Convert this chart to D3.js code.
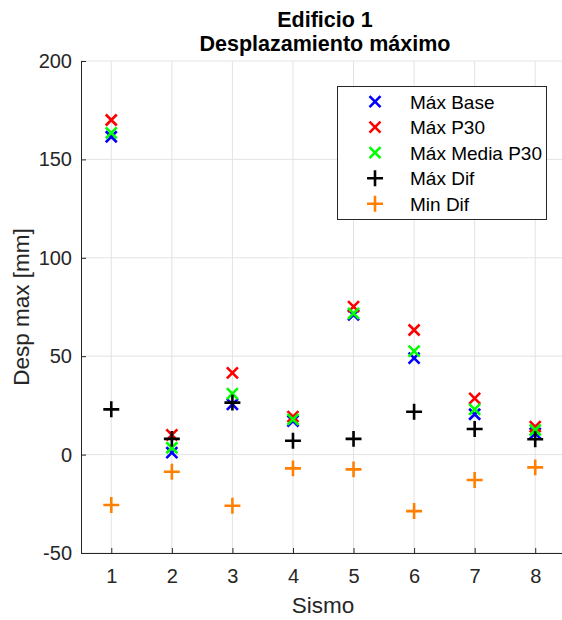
<!DOCTYPE html>
<html>
<head>
<meta charset="utf-8">
<script src="https://cdn.jsdelivr.net/npm/d3@7"></script>
<style>
body{margin:0;background:#fff;}
svg{display:block;font-family:"Liberation Sans",Arial,sans-serif;}
</style>
</head>
<body>
<svg id="chart" width="562" height="620"></svg>
<script>
// valores
var sismos=[1,2,3,4,5,6,7,8];
var maxBase=[161.5,1,25.5,17,71,49,20.5,10.8];
var maxP30=[170,10,41.5,19.3,75.2,63.3,28.6,14.2];
var maxMediaP30=[163.5,3.5,31,17.9,71.8,52.6,23,12.5];
var maxDif=[23,8,26.4,7,8,21.8,13,7.8];
var minDif=[-25.6,-8.7,-26,-7,-7.5,-28.7,-12.9,-6.5];
var yTicks=[-50,0,50,100,150,200];

var series=[
  {name:"Máx Base",vals:maxBase,color:"#0000ff",mark:"x"},
  {name:"Máx P30",vals:maxP30,color:"#ff0000",mark:"x"},
  {name:"Máx Media P30",vals:maxMediaP30,color:"#00ff00",mark:"x"},
  {name:"Máx Dif",vals:maxDif,color:"#000000",mark:"+"},
  {name:"Min Dif",vals:minDif,color:"#ff8000",mark:"+"}
];

var svg=d3.select("#chart");
var pLeft=81,pTop=61,pRight=565.5,pBottom=553;
var x=d3.scaleLinear().domain([0.5,8.5]).range([pLeft,pRight]);
var y=d3.scaleLinear().domain([-50,200]).range([pBottom,pTop]);

// grid
svg.append("g").selectAll("line").data(sismos).enter().append("line")
  .attr("x1",d=>x(d)).attr("x2",d=>x(d)).attr("y1",pTop).attr("y2",pBottom)
  .attr("stroke","#e3e3e3").attr("stroke-width",1);
svg.append("g").selectAll("line").data(yTicks).enter().append("line")
  .attr("x1",pLeft).attr("x2",pRight).attr("y1",d=>y(d)).attr("y2",d=>y(d))
  .attr("stroke","#e3e3e3").attr("stroke-width",1);

// axes
var xAxis=d3.axisBottom(x).tickValues(sismos).tickSize(-5).tickPadding(16).tickSizeOuter(0);
var yAxis=d3.axisLeft(y).tickValues(yTicks).tickFormat(d=>String(d)).tickSize(-5).tickPadding(9).tickSizeOuter(0);
var gx=svg.append("g").attr("transform","translate(0,"+pBottom+")").call(xAxis);
var gy=svg.append("g").attr("transform","translate("+pLeft+",0)").call(yAxis);
[gx,gy].forEach(function(g){
  g.attr("font-family",null);
  g.select(".domain").attr("stroke","#262626").attr("stroke-width",1);
  g.selectAll(".tick line").attr("stroke","#262626");
  g.selectAll(".tick text").attr("fill","#262626").style("font-size","20px");
});

// markers
function drawMark(g,cx,cy,m,c,s){
  if(m=="x"){
    g.append("path").attr("d","M"+(cx-s)+","+(cy-s)+"L"+(cx+s)+","+(cy+s)+"M"+(cx-s)+","+(cy+s)+"L"+(cx+s)+","+(cy-s))
      .attr("stroke",c).attr("stroke-width",2.6).attr("fill","none");
  } else {
    var t=s*1.45;
    g.append("path").attr("d","M"+(cx-t)+","+cy+"L"+(cx+t)+","+cy+"M"+cx+","+(cy-t)+"L"+cx+","+(cy+t))
      .attr("stroke",c).attr("stroke-width",2.6).attr("fill","none");
  }
}
var gm=svg.append("g");
series.forEach(function(s){
  s.vals.forEach(function(v,i){ drawMark(gm,x(sismos[i]),y(v),s.mark,s.color,5.5); });
});

// legend
var lg=svg.append("g");
lg.append("rect").attr("x",337.5).attr("y",86.5).attr("width",209).attr("height",133)
  .attr("fill","#fff").attr("stroke","#262626").attr("stroke-width",1);
series.forEach(function(s,i){
  var cy=101.7+i*25.5;
  drawMark(lg,375,cy,s.mark,s.color,5.5);
  lg.append("text").attr("x",410).attr("y",cy).attr("dy","0.36em")
    .style("font-size","19px").attr("fill","#000").text(s.name);
});

// titles and labels
svg.append("text").attr("x",325).attr("y",27).attr("text-anchor","middle")
  .style("font-size","21.5px").style("font-weight","bold").attr("fill","#000").text("Edificio 1");
svg.append("text").attr("x",325).attr("y",51).attr("text-anchor","middle")
  .style("font-size","21.5px").style("font-weight","bold").attr("fill","#000").text("Desplazamiento máximo");
svg.append("text").attr("x",323).attr("y",613).attr("text-anchor","middle")
  .style("font-size","22.5px").attr("fill","#262626").text("Sismo");
svg.append("text").attr("transform","translate(29,307) rotate(-90)").attr("text-anchor","middle")
  .style("font-size","22.5px").attr("fill","#262626").text("Desp max [mm]");
</script>
</body>
</html>
